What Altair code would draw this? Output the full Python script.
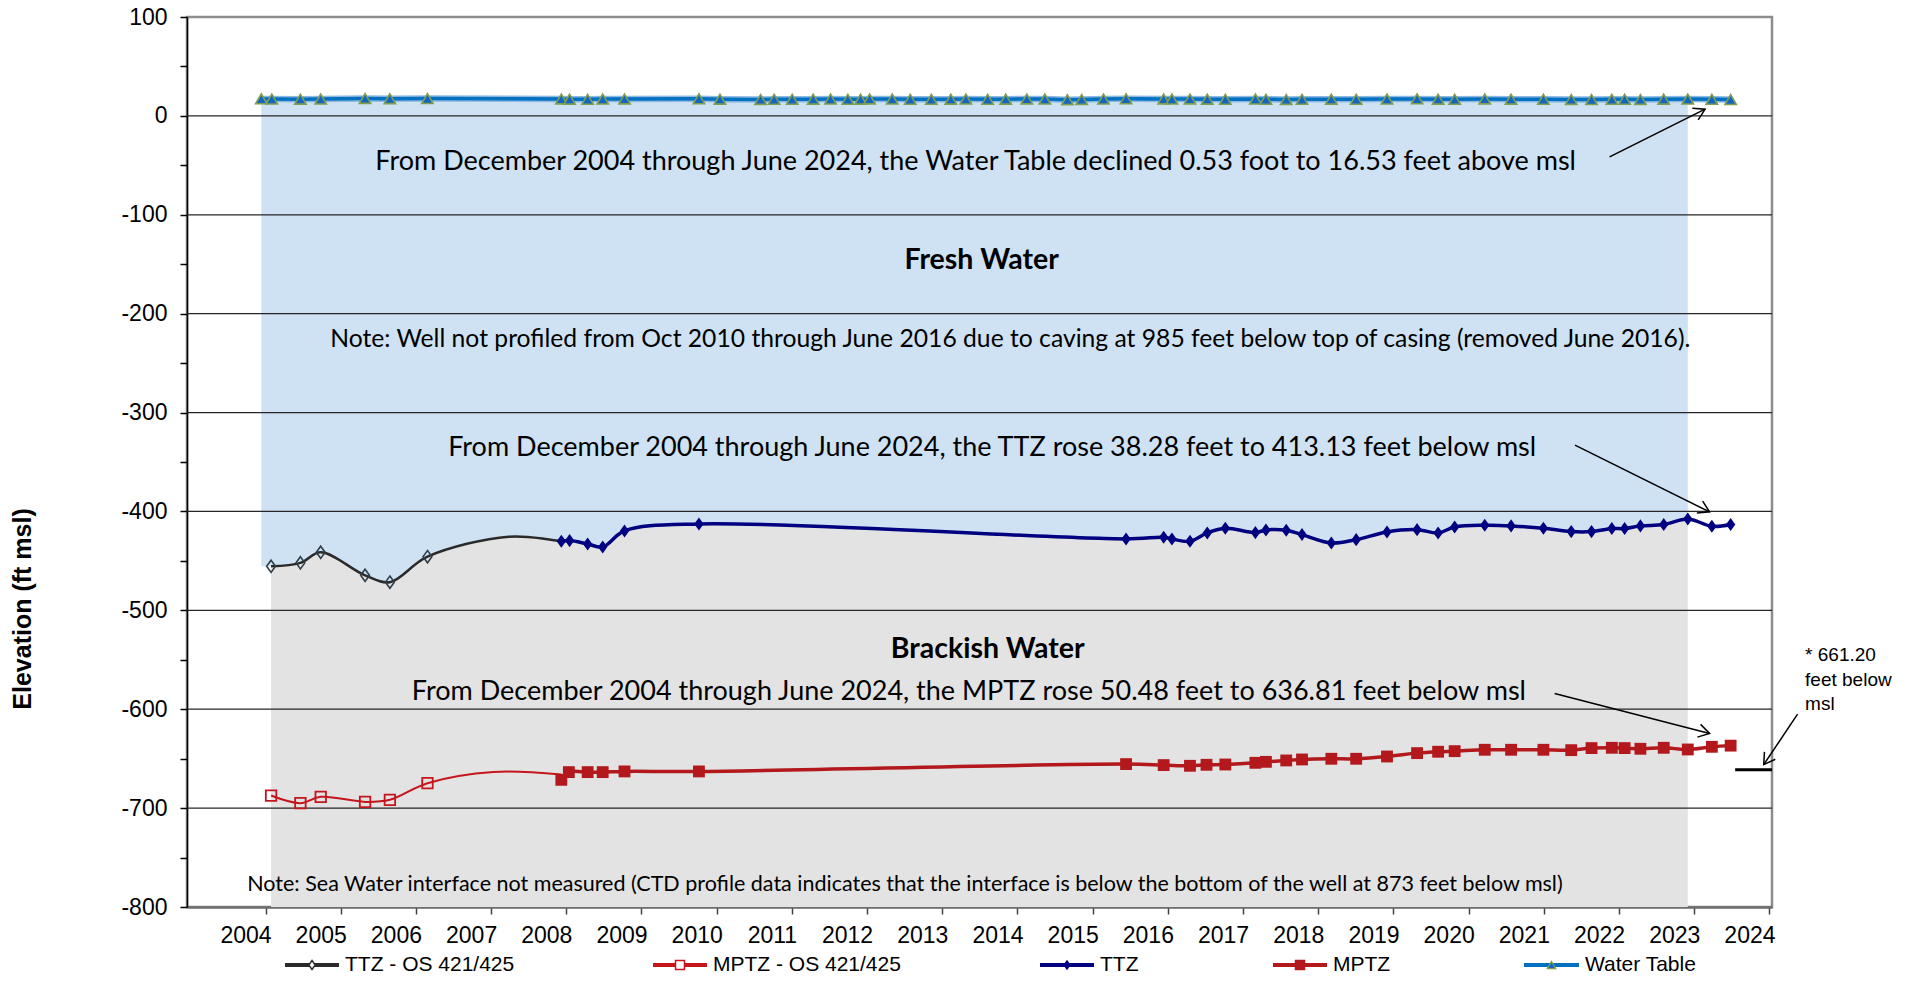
import altair as alt
import pandas as pd

# ---------------- values ----------------
year_labels = list(range(2004, 2025))
y_tick_values = list(range(-800, 101, 50))
grid_values = list(range(-700, 1, 100))

# TTZ - OS 421/425 (hollow diamonds) and MPTZ - OS 421/425 (hollow squares)
os_x = [2004.34, 2004.73, 2005.00, 2005.59, 2005.92, 2006.42]
ttz_os_y = [-455.5, -452.0, -441.3, -464.6, -471.5, -445.7]
mptz_os_y = [-687.3, -695.0, -688.6, -693.7, -691.6, -674.8]
# unmarked points that the smoothed OS lines pass through before 2008
ttz_os_line_x = [2007.50]
ttz_os_line_y = [-425.5]
mptz_os_line_x = [2007.30, 2008.20]
mptz_os_line_y = [-663.5, -666.0]

# TTZ (navy diamonds)
ttz_x = [2008.20, 2008.31, 2008.55, 2008.75, 2009.04, 2010.03,
         2015.71, 2016.21, 2016.32, 2016.56, 2016.79, 2017.03, 2017.43,
         2017.57, 2017.84, 2018.05, 2018.44, 2018.77, 2019.18, 2019.58,
         2019.86, 2020.08, 2020.48, 2020.83, 2021.26, 2021.63, 2021.90,
         2022.17, 2022.34, 2022.55, 2022.86, 2023.18, 2023.50, 2023.75]
ttz_y = [-430.2, -429.5, -432.9, -435.9, -419.7, -412.6,
         -427.8, -426.1, -427.8, -430.2, -421.7, -417.0, -421.4,
         -418.7, -419.0, -423.4, -431.9, -428.5, -420.7, -418.4,
         -421.7, -415.7, -414.0, -414.6, -417.0, -420.4, -420.4,
         -417.3, -417.3, -414.6, -413.3, -407.6, -415.0, -413.13]

# MPTZ (red squares)
mptz_x = [2008.20, 2008.30, 2008.55, 2008.75, 2009.04, 2010.03,
          2015.71, 2016.21, 2016.56, 2016.78, 2017.03, 2017.43, 2017.57,
          2017.84, 2018.05, 2018.44, 2018.77, 2019.18, 2019.58, 2019.86,
          2020.08, 2020.48, 2020.83, 2021.26, 2021.63, 2021.90, 2022.17,
          2022.34, 2022.55, 2022.86, 2023.18, 2023.50, 2023.75]
mptz_y = [-671.4, -663.6, -663.6, -663.6, -662.9, -662.9,
          -655.5, -656.5, -657.2, -656.2, -655.9, -654.2, -653.2,
          -651.8, -650.8, -650.1, -650.1, -647.8, -644.4, -643.0,
          -642.4, -641.0, -641.0, -641.0, -641.4, -639.3, -639.0,
          -639.3, -640.0, -639.0, -640.7, -638.0, -636.81]

# Water Table (triangles)
wt_x = [2004.21, 2004.35, 2004.73, 2005.00, 2005.59, 2005.92, 2006.42,
        2008.20, 2008.31, 2008.55, 2008.75, 2009.04,
        2010.03, 2010.31, 2010.85,
        2011.03, 2011.27, 2011.55, 2011.78,
        2012.01, 2012.18, 2012.30, 2012.60, 2012.84,
        2013.12, 2013.38, 2013.58, 2013.87,
        2014.11, 2014.39, 2014.63, 2014.93,
        2015.12, 2015.41, 2015.71,
        2016.21, 2016.32, 2016.56, 2016.79, 2017.03, 2017.43, 2017.57,
        2017.84, 2018.05, 2018.44, 2018.77, 2019.18, 2019.58, 2019.86,
        2020.08, 2020.48, 2020.83, 2021.26, 2021.63, 2021.90, 2022.17,
        2022.34, 2022.55, 2022.86, 2023.18, 2023.50, 2023.75]
wt_y = [17.2, 17.06, 16.9, 17.0, 17.6, 17.4, 17.5,
        17.1, 16.9, 16.8, 17.0, 17.1,
        17.3, 16.9, 16.6,
        16.8, 16.7, 16.9, 17.0,
        16.8, 16.9, 17.1, 17.0, 16.8,
        16.7, 16.9, 17.0, 16.8,
        16.9, 17.1, 17.0, 16.4,
        16.6, 17.0, 17.3,
        17.1, 17.0, 17.1, 16.9, 16.7, 17.0, 16.8,
        16.6, 16.7, 16.9, 16.8, 17.0, 17.2, 16.9,
        16.7, 17.1, 16.9, 16.8, 16.6, 16.5, 16.7,
        16.8, 16.6, 16.9, 17.0, 16.7, 16.53]

shade_end = 2023.18          # last date of the shaded zones
mptz_2004_mark = -661.20     # "* 661.20 feet below msl"

# annotation texts (x in years, y in ft msl)
plain_notes = [
    ("From December 2004 through June 2024, the Water Table declined 0.53 foot to 16.53 feet above msl", 2013.71, -46.6),
    ("From December 2004 through June 2024, the TTZ rose 38.28 feet to 413.13 feet below msl", 2013.93, -336.0),
    ("From December 2004 through June 2024, the MPTZ rose 50.48 feet  to 636.81 feet below msl", 2013.62, -583.0),
]
well_notes = [
    ("Note: Well not profiled from Oct 2010 through June 2016 due to caving at 985 feet below top of casing (removed June 2016).", 2014.17, -226.7),
]
bold_notes = [("Fresh Water", 2013.79, -145.7), ("Brackish Water", 2013.87, -539.5)]
small_notes = [("Note: Sea Water interface not measured (CTD profile data indicates that the interface is below the bottom of the well at 873 feet below msl)", 2012.77, -777.3)]
side_notes = [("* 661.20", 2024.74, -545.5), ("feet below", 2024.74, -570.9), ("msl", 2024.74, -595.1)]
# arrows: start x, start y, tip x, tip y, head angle (deg)
arrows = [
    (2022.14, -41.5, 2023.41, 6.8, 333.5),
    (2021.68, -333.0, 2023.47, -400.5, 26.3),
    (2021.41, -584.0, 2023.47, -624.5, 14.2),
    (2024.64, -605.0, 2024.19, -656.0, 124.2),
]

# ---------------- tables ----------------
ttz_os_df = pd.DataFrame({"x": os_x, "y": ttz_os_y})
mptz_os_df = pd.DataFrame({"x": os_x, "y": mptz_os_y})
ttz_df = pd.DataFrame({"x": ttz_x, "y": ttz_y})
mptz_df = pd.DataFrame({"x": mptz_x, "y": mptz_y})
wt_df = pd.DataFrame({"x": wt_x, "y": wt_y})
ttz_os_line = pd.concat([ttz_os_df, pd.DataFrame({"x": ttz_os_line_x, "y": ttz_os_line_y}),
                         ttz_df.iloc[[0]]], ignore_index=True)
mptz_os_line = pd.concat([mptz_os_df, pd.DataFrame({"x": mptz_os_line_x, "y": mptz_os_line_y})],
                         ignore_index=True)
ttz_all = pd.concat([ttz_os_line, ttz_df.iloc[1:]], ignore_index=True)
ttz_shade = ttz_all[ttz_all.x <= shade_end]
# fresh-water zone: from the water table level down to the TTZ, starting at the first water-table date
blue_df = pd.concat([pd.DataFrame({"x": [wt_x[0]], "y": [ttz_os_y[0]]}), ttz_shade], ignore_index=True)
blue_df["top"] = float(wt_df.y.mean())
grid_df = pd.DataFrame({"v": grid_values})
dash_df = pd.DataFrame({"x": [2023.81], "x2": [2024.30], "y": [mptz_2004_mark]})
arrow_df = pd.DataFrame(arrows, columns=["x", "y", "x2", "y2", "ang"])


def notes_df(items):
    return pd.DataFrame(items, columns=["t", "x", "y"])


# ---------------- scales / axes ----------------
X_DOMAIN = [2003.222, 2024.30]
Y_DOMAIN = [-800, 100]
xs = alt.Scale(domain=X_DOMAIN, nice=False, zero=False)
ys = alt.Scale(domain=Y_DOMAIN, nice=False, zero=False)
x_axis = alt.Axis(values=year_labels, labelExpr="toString(datum.value)", grid=False,
                  tickSize=7, tickWidth=1.5, tickColor="#404040", tickOffset=20, labelOffset=-20,
                  domainColor="#6e6e6e", domainWidth=2.5, labelFont="Liberation Sans",
                  labelFontSize=23, labelColor="black", labelPadding=10, title=None,
                  labelFlush=False, labelOverlap=False)
y_axis = alt.Axis(values=y_tick_values,
                  labelExpr="datum.value % 100 == 0 ? toString(datum.value) : ''",
                  grid=False, tickSize=7, tickWidth=1.5, tickColor="black",
                  domainColor="black", domainWidth=1.5, labelFont="Liberation Sans",
                  labelFontSize=23, labelColor="black", labelPadding=13, title=None,
                  labelOverlap=False, labelFlush=False)


def X(f="x"):
    return alt.X(f"{f}:Q", scale=xs, axis=x_axis)


def Y(f="y"):
    return alt.Y(f"{f}:Q", scale=ys, axis=y_axis)


DIAMOND = "M 0 -1 L 0.72 0 L 0 1 L -0.72 0 Z"
HEAD = "M -1 -0.6 L 0 0 L -1 0.6"
NOTE_FONT = "Lato"
SANS = "Liberation Sans"

layers = []
# shaded zones
layers.append(alt.Chart(blue_df).mark_area(color="#cfe2f3", interpolate="catmull-rom").encode(
    x=X(), y=Y("top"), y2="y:Q"))
layers.append(alt.Chart(ttz_shade).mark_area(color="#e3e3e3", interpolate="catmull-rom").encode(
    x=X(), y=Y(), y2=alt.datum(-800)))
# gridlines
layers.append(alt.Chart(grid_df).mark_rule(color="#262626", strokeWidth=1.2).encode(y=Y("v")))
# water table
layers.append(alt.Chart(wt_df).mark_line(color="#8db9e3", strokeWidth=6.5).encode(x=X(), y=Y()))
layers.append(alt.Chart(wt_df).mark_line(color="#0070c0", strokeWidth=3.5).encode(x=X(), y=Y()))
# OS lines
layers.append(alt.Chart(ttz_os_line).mark_line(color="#2a2a2a", strokeWidth=2.5, interpolate="catmull-rom").encode(x=X(), y=Y()))
layers.append(alt.Chart(mptz_os_line).mark_line(color="#c4161c", strokeWidth=2, interpolate="catmull-rom").encode(x=X(), y=Y()))
# main lines
layers.append(alt.Chart(ttz_df).mark_line(color="#000080", strokeWidth=3.5, interpolate="catmull-rom").encode(x=X(), y=Y()))
layers.append(alt.Chart(mptz_df).mark_line(color="#b2181c", strokeWidth=3.5, interpolate="catmull-rom").encode(x=X(), y=Y()))
# markers
layers.append(alt.Chart(ttz_os_df).mark_point(shape=DIAMOND, filled=False, color="#2f3e4a", strokeWidth=1.6, size=150, opacity=1).encode(x=X(), y=Y()))
layers.append(alt.Chart(mptz_os_df).mark_point(shape="square", filled=False, color="#c4161c", strokeWidth=1.8, size=110, opacity=1).encode(x=X(), y=Y()))
layers.append(alt.Chart(ttz_df).mark_point(shape=DIAMOND, filled=True, color="#000080", size=170, opacity=1).encode(x=X(), y=Y()))
layers.append(alt.Chart(mptz_df).mark_point(shape="square", filled=True, color="#b2181c", size=140, opacity=1).encode(x=X(), y=Y()))
layers.append(alt.Chart(wt_df).mark_point(shape="triangle-up", filled=True, fill="#1565c0", stroke="#7f9f50", strokeWidth=1.6, size=130, opacity=1).encode(x=X(), y=Y()))
# 661.20 dash
layers.append(alt.Chart(dash_df).mark_rule(color="black", strokeWidth=3).encode(x=X(), x2="x2:Q", y=Y()))
# arrows
layers.append(alt.Chart(arrow_df).mark_rule(color="black", strokeWidth=1.5).encode(x=X(), y=Y(), x2="x2:Q", y2="y2:Q"))
layers.append(alt.Chart(arrow_df).mark_point(shape=HEAD, filled=False, color="black", strokeWidth=1.5, size=480, opacity=1).encode(
    x=X("x2"), y=Y("y2"), angle=alt.Angle("ang:Q", scale=None)))
# annotation texts
layers.append(alt.Chart(notes_df(plain_notes)).mark_text(font=NOTE_FONT, fontSize=27, color="black", align="center", baseline="middle").encode(x=X(), y=Y(), text="t:N"))
layers.append(alt.Chart(notes_df(well_notes)).mark_text(font=NOTE_FONT, fontSize=24.7, color="black", align="center", baseline="middle").encode(x=X(), y=Y(), text="t:N"))
layers.append(alt.Chart(notes_df(bold_notes)).mark_text(font=NOTE_FONT, fontSize=28.5, fontWeight="bold", color="black", align="center", baseline="middle").encode(x=X(), y=Y(), text="t:N"))
layers.append(alt.Chart(notes_df(small_notes)).mark_text(font=NOTE_FONT, fontSize=21.5, color="black", align="center", baseline="middle").encode(x=X(), y=Y(), text="t:N"))
layers.append(alt.Chart(notes_df(side_notes)).mark_text(font=SANS, fontSize=19, color="black", align="left", baseline="middle").encode(x=X(), y=Y(), text="t:N"))

# y axis title
one = alt.Data(values=[{}])
layers.append(alt.Chart(one).mark_text(text="Elevation (ft msl)", font=SANS, fontSize=25, fontWeight="bold",
                                      angle=270, align="center", baseline="middle", color="black").encode(
    x=alt.value(-164), y=alt.value(592)))

# legend (pixel layout below the plot)
legend_items = [
    ("TTZ - OS 421/425", "#2a2a2a", DIAMOND, False, 98, 152),
    ("MPTZ - OS 421/425", "#c4161c", "square", False, 466, 520),
    ("TTZ", "#000080", DIAMOND, True, 853, 907),
    ("MPTZ", "#b2181c", "square", True, 1086, 1140),
    ("Water Table", "#0070c0", "triangle-up", True, 1337, 1392),
]
LY = 948
for name, col, shp, filled, x1, x2 in legend_items:
    layers.append(alt.Chart(one).mark_rule(color=col, strokeWidth=4).encode(
        x=alt.value(x1), x2=alt.value(x2), y=alt.value(LY)))
    if name == "Water Table":
        pt = alt.Chart(one).mark_point(shape=shp, filled=True, fill="#1565c0", stroke="#7f9f50", strokeWidth=1.2, size=70, opacity=1)
    elif filled:
        pt = alt.Chart(one).mark_point(shape=shp, filled=True, color=col, size=110, opacity=1)
    else:
        pt = alt.Chart(one).mark_point(shape=shp, filled=True, fill="white", stroke=col, strokeWidth=1.5, size=80, opacity=1)
    layers.append(pt.encode(x=alt.value((x1 + x2) / 2), y=alt.value(LY)))
    layers.append(alt.Chart(one).mark_text(text=name, font=SANS, fontSize=21, color="black",
                                          align="left", baseline="middle").encode(
        x=alt.value(x2 + 6), y=alt.value(LY)))

chart = alt.layer(*layers).properties(
    width=1585, height=890,
    autosize=alt.AutoSizeParams(type="none"),
    padding={"left": 179, "top": 9, "right": 140, "bottom": 69},
    background="white",
).configure_view(stroke="#8c8c8c", strokeWidth=2.5)

chart.save("out.html", embed_options={"renderer": "svg", "actions": False})
